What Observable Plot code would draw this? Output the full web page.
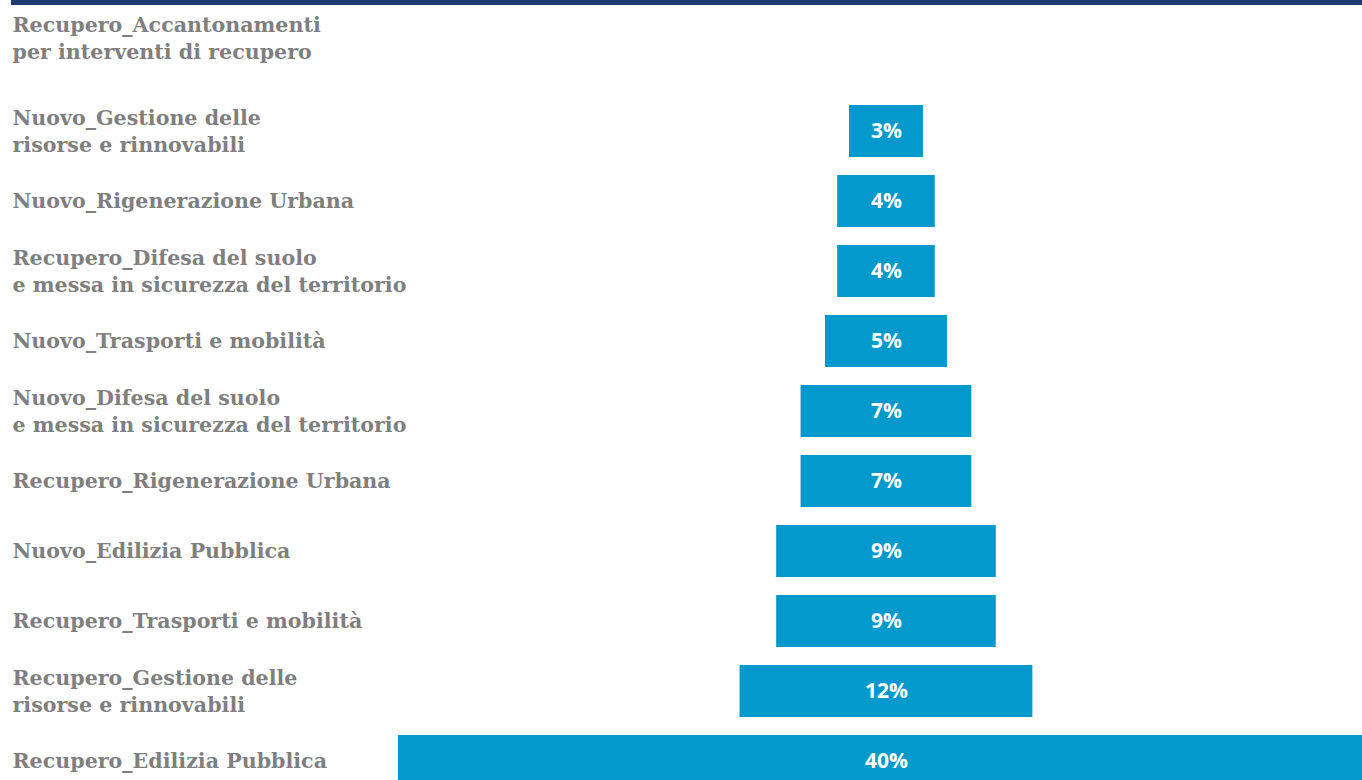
<!DOCTYPE html>
<html>
<head>
<meta charset="utf-8">
<script src="https://cdn.jsdelivr.net/npm/d3@7"></script>
<script src="https://cdn.jsdelivr.net/npm/@observablehq/plot@0.6"></script>
<style>
  html, body { margin: 0; padding: 0; background: #fff; overflow: hidden; }
  #topline { height: 5px; background: #1d3b6e; margin-left: 11px; }
  #chart svg { display: block; overflow: visible; }
</style>
</head>
<body>
<div id="topline"></div>
<div id="chart"></div>
<script>
const categories = [
  "Recupero_Accantonamenti\nper interventi di recupero",
  "Nuovo_Gestione delle\nrisorse e rinnovabili",
  "Nuovo_Rigenerazione Urbana",
  "Recupero_Difesa del suolo\ne messa in sicurezza del territorio",
  "Nuovo_Trasporti e mobilità",
  "Nuovo_Difesa del suolo\ne messa in sicurezza del territorio",
  "Recupero_Rigenerazione Urbana",
  "Nuovo_Edilizia Pubblica",
  "Recupero_Trasporti e mobilità",
  "Recupero_Gestione delle\nrisorse e rinnovabili",
  "Recupero_Edilizia Pubblica"
];
const shares = [0, 3.03, 4.0, 4.0, 5.0, 7.0, 7.0, 9.0, 9.0, 12.0, 40.0];

const data = categories.map((c, i) => ({cat: c, v: shares[i], idx: i}));

const labelStyle = {
  fill: "#7f7f7f", fontSize: 20.6, fontWeight: 700, fontFamily: "DejaVu Serif", lineHeight: 1.32
};

const chart = Plot.plot({
  width: 1362,
  height: 775,
  marginLeft: 0,
  marginRight: 0,
  marginTop: 0,
  marginBottom: 0,
  x: {domain: [-36.31, 19.51], axis: null},
  y: {domain: categories, range: [21, 791], paddingInner: 0.257, paddingOuter: 0.1285, round: false, axis: null},
  marks: [
    Plot.barX(data, {y: "cat", x1: d => -d.v / 2, x2: d => d.v / 2, fill: "#0399cc"}),
    Plot.text(data.filter(d => d.v > 0), {
      y: "cat", x: 0, text: d => Math.round(d.v) + "%",
      fill: "white", fontSize: 21, fontWeight: 700, fontFamily: "Open Sans"
    }),
    Plot.text(data.filter(d => d.idx > 0), {
      y: "cat", frameAnchor: "left", dx: 12, dy: -2, textAnchor: "start", text: "cat", ...labelStyle
    }),
    Plot.text(data.filter(d => d.idx === 0), {
      y: "cat", frameAnchor: "left", dx: 12, dy: -25, textAnchor: "start", text: "cat", ...labelStyle
    })
  ]
});
document.getElementById("chart").appendChild(chart);
</script>
</body>
</html>
